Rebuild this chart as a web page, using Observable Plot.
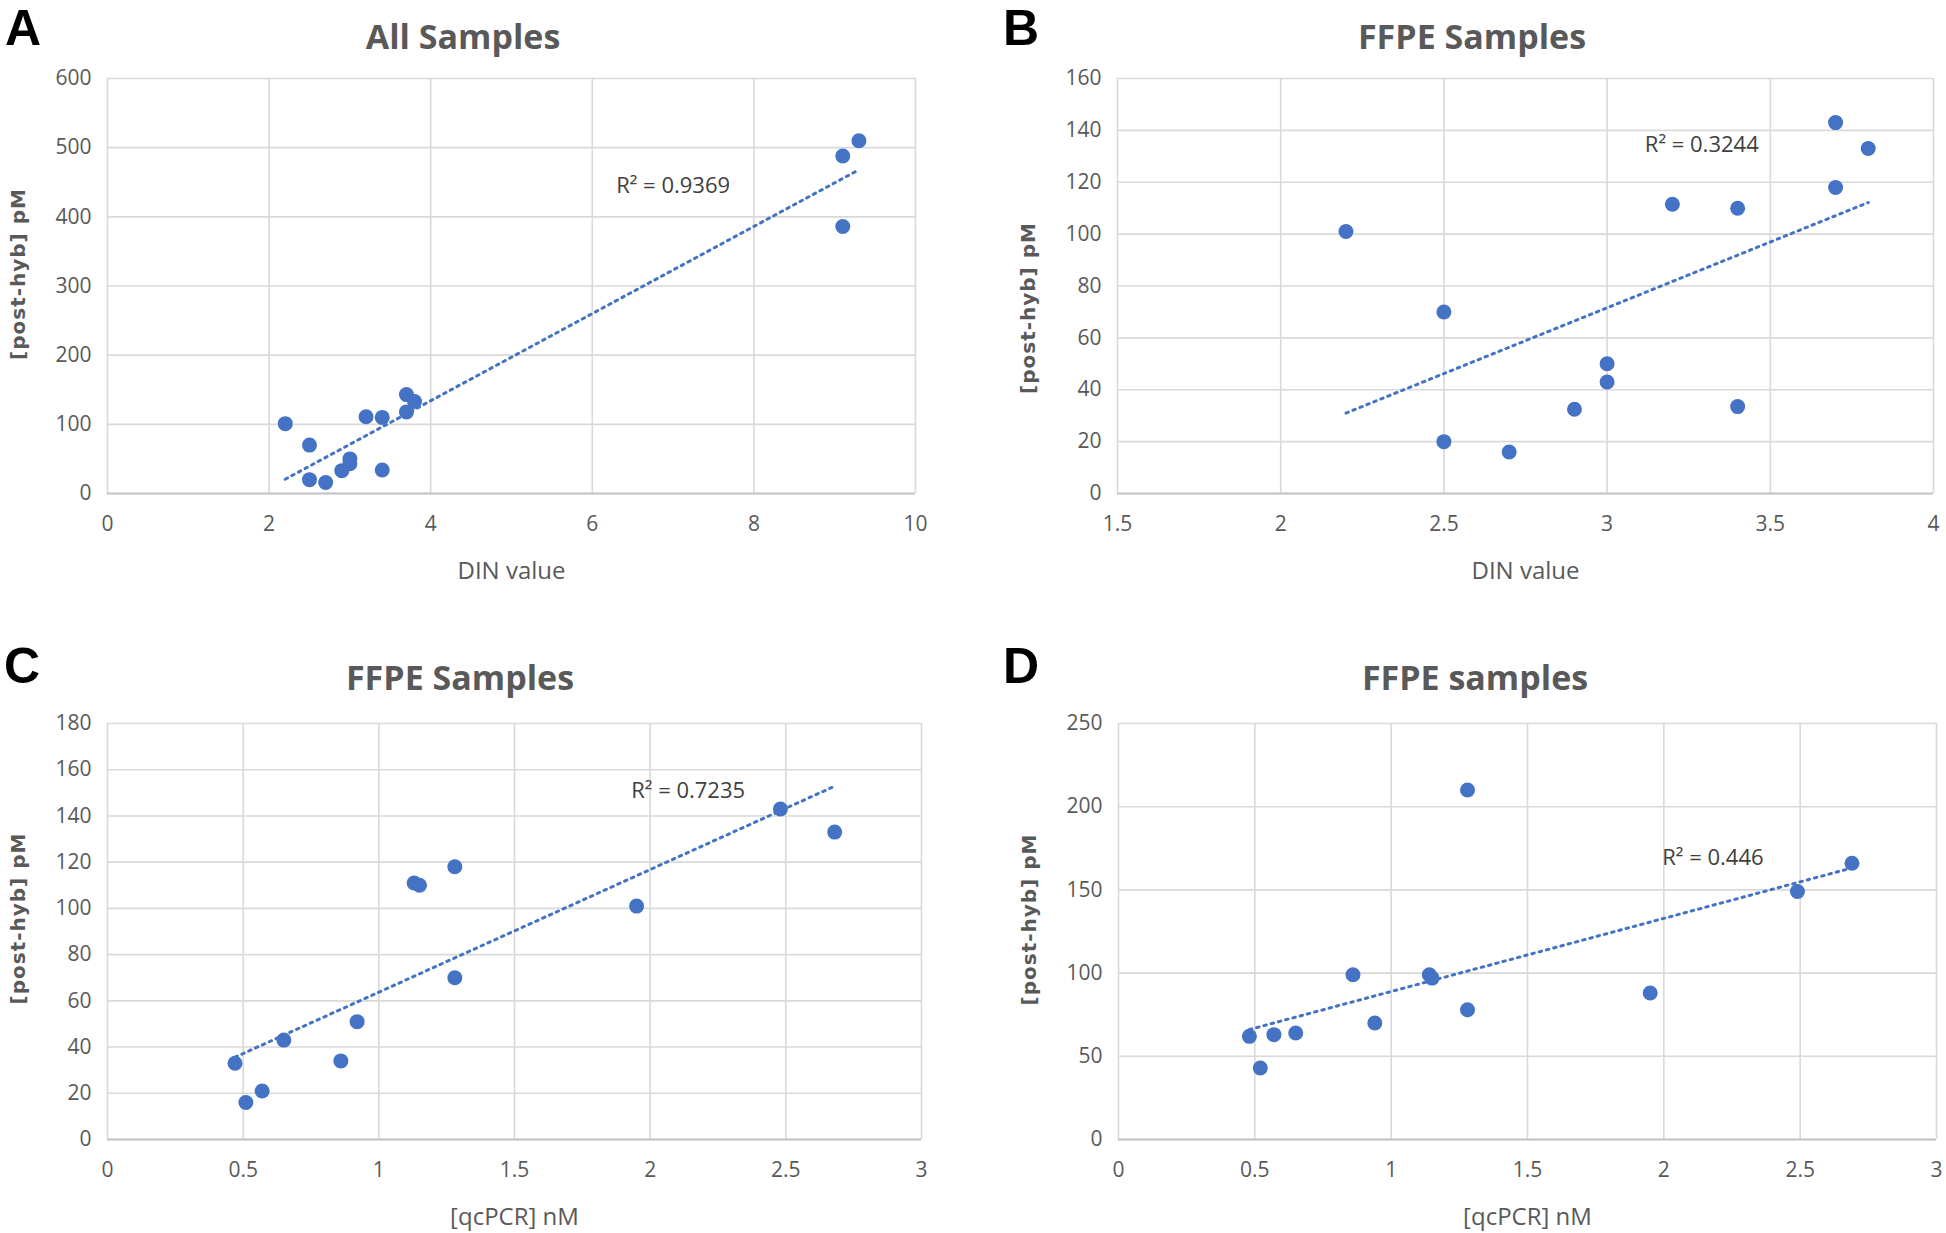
<!DOCTYPE html>
<html>
<head>
<meta charset="utf-8">
<script src="https://cdn.jsdelivr.net/npm/d3@7"></script>
<script src="https://cdn.jsdelivr.net/npm/@observablehq/plot@0.6"></script>
<style>
  body { margin: 0; background: #fff; }
  #page { position: relative; width: 1946px; height: 1233px; background: #fff; overflow: hidden; }
  .letter { position: absolute; font-family: "Liberation Sans", Arial, sans-serif; font-weight: bold;
            font-size: 50px; line-height: 56px; color: #000; }
  .title { position: absolute; font-family: "Open Sans", sans-serif; font-weight: bold; font-size: 34px;
           line-height: 34px; color: #595959; transform: translateX(-50%); white-space: nowrap; }
  .panel { position: absolute; }
  .ylab text { letter-spacing: 1px; }
</style>
</head>
<body>
<div id="page"></div>
<script>
// ---------- data ----------
// Panel A: all samples (DIN value vs post-hyb pM)
const dinAll = [2.2, 2.5, 2.5, 2.7, 2.9, 3.0, 3.0, 3.2, 3.4, 3.4, 3.7, 3.7, 3.8, 9.1, 9.1, 9.3];
const pmAll  = [101, 70, 20, 16, 33, 50, 43, 111, 110, 34, 143, 118, 133, 488, 386, 510];
// Panel B: FFPE samples (DIN value vs post-hyb pM)
const dinFFPE = [2.2, 2.5, 2.5, 2.7, 2.9, 3.0, 3.0, 3.2, 3.4, 3.4, 3.7, 3.7, 3.8];
const pmFFPE  = [101, 70, 20, 16, 32.5, 50, 43, 111.5, 110, 33.5, 143, 118, 133];
// Panel C: FFPE samples (qcPCR nM vs post-hyb pM)
const qcC = [0.47, 0.51, 0.57, 0.65, 0.86, 0.92, 1.13, 1.15, 1.28, 1.28, 1.95, 2.48, 2.68];
const pmC = [33, 16, 21, 43, 34, 51, 111, 110, 118, 70, 101, 143, 133];
// Panel D: FFPE samples (qcPCR nM vs post-hyb pM)
const qcD = [0.48, 0.52, 0.57, 0.65, 0.86, 0.94, 1.14, 1.15, 1.28, 1.28, 1.95, 2.49, 2.69];
const pmD = [62, 43, 63, 64, 99, 70, 99, 97, 210, 78, 88, 149, 166];

// ticks
const xTicksA = [0, 2, 4, 6, 8, 10];
const yTicksA = [0, 100, 200, 300, 400, 500, 600];
const xTicksB = [1.5, 2, 2.5, 3, 3.5, 4];
const yTicksB = [0, 20, 40, 60, 80, 100, 120, 140, 160];
const xTicksCD = [0, 0.5, 1, 1.5, 2, 2.5, 3];
const yTicksC = [0, 20, 40, 60, 80, 100, 120, 140, 160, 180];
const yTicksD = [0, 50, 100, 150, 200, 250];

// texts
const letters = ["A", "B", "C", "D"];
const titles = ["All Samples", "FFPE Samples", "FFPE Samples", "FFPE samples"];
const xLabels = ["DIN value", "DIN value", "[qcPCR] nM", "[qcPCR] nM"];
const yLabel = "[post-hyb] pM";
const r2Text = ["R² = 0.9369", "R² = 0.3244", "R² = 0.7235", "R² = 0.446"];
// R² label anchor, in data units
const r2X = [7.0, 3.29, 2.14, 2.18];
const r2Y = [444, 134.5, 151, 169];

// ---------- layout ----------
const BLUE = "#4472c4";
const GRID = "#d9d9d9";
const TXT = "#595959";

const panels = [
  {xs: dinAll, ys: pmAll, xTicks: xTicksA, yTicks: yTicksA, xDomain: [0, 10], yDomain: [0, 600],
   left: 0, top: 60, width: 973, height: 560, mL: 107, mR: 58, mT: 18, mB: 127, yOff: -12,
   letterPos: [5, 0], titlePos: [463, 19]},
  {xs: dinFFPE, ys: pmFFPE, xTicks: xTicksB, yTicks: yTicksB, xDomain: [1.5, 4], yDomain: [0, 160],
   left: 973, top: 60, width: 973, height: 560, mL: 144, mR: 13, mT: 18, mB: 127, yOff: 22,
   letterPos: [1003, 0], titlePos: [1472, 19]},
  {xs: qcC, ys: pmC, xTicks: xTicksCD, yTicks: yTicksC, xDomain: [0, 3], yDomain: [0, 180],
   left: 0, top: 700, width: 973, height: 533, mL: 107, mR: 52, mT: 23, mB: 94, yOff: -13,
   letterPos: [4, 638], titlePos: [460, 660]},
  {xs: qcD, ys: pmD, xTicks: xTicksCD, yTicks: yTicksD, xDomain: [0, 3], yDomain: [0, 250],
   left: 973, top: 700, width: 973, height: 533, mL: 145, mR: 10, mT: 23, mB: 94, yOff: -12,
   letterPos: [1003, 638], titlePos: [1475, 660]}
];

const page = document.getElementById("page");
const fmt = d => String(d);

panels.forEach((p, i) => {
  const data = p.xs.map((x, j) => ({x, y: p.ys[j]}));
  const chart = Plot.plot({
    width: p.width, height: p.height,
    marginLeft: p.mL, marginRight: p.mR, marginTop: p.mT, marginBottom: p.mB,
    style: {fontFamily: '"Open Sans", sans-serif', fontSize: "21px", color: TXT,
            background: "transparent", overflow: "visible"},
    x: {type: "linear", domain: p.xDomain, nice: false},
    y: {type: "linear", domain: p.yDomain, nice: false},
    marks: [
      Plot.gridX({ticks: p.xTicks, stroke: GRID, strokeOpacity: 1, strokeWidth: 1.6}),
      Plot.gridY({ticks: p.yTicks, stroke: GRID, strokeOpacity: 1, strokeWidth: 1.6}),
      Plot.ruleY([p.yDomain[0]], {stroke: "#c4c4c4", strokeWidth: 2}),
      Plot.axisX({ticks: p.xTicks, tickFormat: fmt, tickSize: 0, tickPadding: 23, fontSize: 21, label: null}),
      Plot.axisY({ticks: p.yTicks, tickFormat: fmt, tickSize: 0, tickPadding: 16, fontSize: 21, label: null}),
      Plot.linearRegressionY(data, {x: "x", y: "y", ci: 0, stroke: BLUE, strokeWidth: 3,
                                    strokeDasharray: "2.5 5"}),
      Plot.dot(data, {x: "x", y: "y", r: 7.5, fill: BLUE, stroke: "none"}),
      Plot.text([{x: r2X[i], y: r2Y[i], t: r2Text[i]}], {x: "x", y: "y", text: "t", fill: "#404040",
                 fontSize: 22}),
      Plot.text([xLabels[i]], {frameAnchor: "bottom", dy: 78, text: d => d, fontSize: 24, fill: TXT,
                 lineAnchor: "middle"}),
      Plot.text([yLabel], {frameAnchor: "left", dx: -89, dy: p.yOff, rotate: -90, text: d => d,
                 textAnchor: "middle", fontFamily: "DejaVu Sans", fontWeight: "bold", fontSize: 20,
                 fill: TXT, lineAnchor: "middle", className: "ylab"})
    ]
  });
  const wrap = document.createElement("div");
  wrap.className = "panel";
  wrap.style.left = p.left + "px";
  wrap.style.top = p.top + "px";
  wrap.appendChild(chart);
  page.appendChild(wrap);

  const L = document.createElement("div");
  L.className = "letter";
  L.textContent = letters[i];
  L.style.left = p.letterPos[0] + "px";
  L.style.top = p.letterPos[1] + "px";
  page.appendChild(L);

  const T = document.createElement("div");
  T.className = "title";
  T.textContent = titles[i];
  T.style.left = p.titlePos[0] + "px";
  T.style.top = p.titlePos[1] + "px";
  page.appendChild(T);
});
</script>
</body>
</html>
